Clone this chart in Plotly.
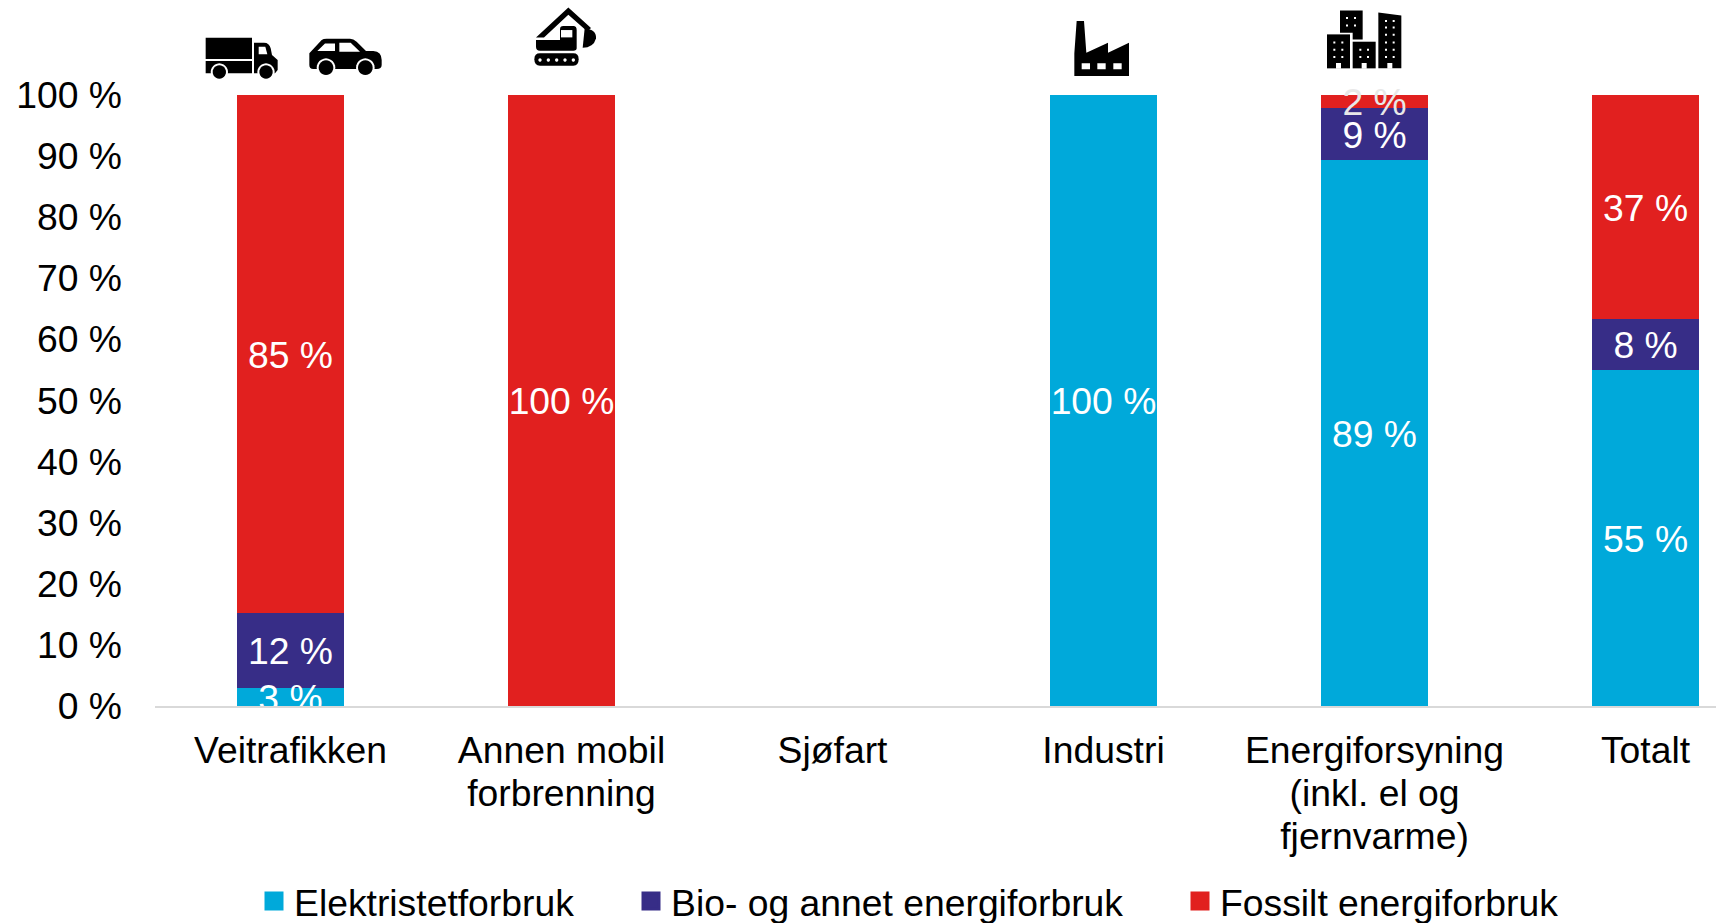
import re
import math
import plotly.graph_objects as go

# ---------- data ----------
categories = ["Veitrafikken", "Annen mobil<br>forbrenning", "Sjøfart", "Industri",
              "Energiforsyning<br>(inkl. el og<br>fjernvarme)", "Totalt"]
elektrisitet = [3.0, 0, 0, 100, 89.3, 55.0]
bio = [12.2, 0, 0, 0, 8.6, 8.4]
fossilt = [84.8, 100, 0, 0, 2.1, 36.6]
series_names = ["Elektristetforbruk", "Bio- og annet energiforbruk", "Fossilt energiforbruk"]
series_colors = ["#00A9DA", "#372D87", "#E1201F"]
y_ticks = list(range(0, 101, 10))
y_tick_labels = [f"{v} %" for v in y_ticks]

FONT = "Liberation Sans"
SIZE = 37.3
W, H = 1716, 923
L, R_PLOT, T, B = 155.0, 1716, 95, 706.5
LABEL_DROP = 0.72  # label centring offset, in axis units


def fx(px):
    return (px - L) / (R_PLOT - L)


def fy(py):
    return (B - py) / (B - T)


def conv(path, ox=0.0, oy=0.0):
    """Zoomed-icon path (3x pixels) to paper coordinates."""
    out = []
    for cmd, args in re.findall(r"([MLHVQCZ])([^MLHVQCZ]*)", path):
        nums = [float(n) for n in re.findall(r"-?\d+\.?\d*", args)]
        vals = []
        for i in range(0, len(nums), 2):
            vals.append(f"{fx(ox + nums[i] / 3):.5f},{fy(oy + nums[i + 1] / 3):.5f}")
        out.append(cmd + " ".join(vals))
    return "".join(out)


def circle(cx, cy, r):
    pts = [(cx + r * math.cos(a * math.pi / 12), cy + r * math.sin(a * math.pi / 12)) for a in range(24)]
    return "M" + "L".join(f"{x:.1f},{y:.1f}" for x, y in pts) + "Z"


def rect(x0, y0, x1, y1):
    return f"M{x0},{y0}L{x1},{y0}L{x1},{y1}L{x0},{y1}Z"


icon_shapes = []


def icon(path, color, ox, oy):
    icon_shapes.append(dict(type="path", xref="paper", yref="paper", path=conv(path, ox, oy),
                            fillcolor=color, line=dict(width=0), layer="above"))


# truck and car (offset 180,0)
ox, oy = 180, 0
icon(rect(77, 113, 216, 177) + rect(77, 183, 216, 220), "#000", ox, oy)
icon("M222,128L252,128Q268,128 272,145L276,165L293,180L293,210L285,220L222,220Z", "#000", ox, oy)
icon("M236,140L256,140L262,163L236,163Z", "#fff", ox, oy)
icon("M388,160L425,120Q430,116 440,116L510,116Q520,116 530,125L558,153L580,153Q605,155 605,180"
     "L605,195Q605,207 590,207L400,207Q388,207 388,195Z", "#000", ox, oy)
icon("M412,153L435,130L465,130L465,153Z" + "M478,128L512,128L540,155L478,155Z", "#fff", ox, oy)
for cx, cy, r in [(118, 216, 20), (258, 216, 20), (438, 203, 22), (556, 203, 22)]:
    icon(circle(cx, cy, r + 6), "#fff", ox, oy)
    icon(circle(cx, cy, r), "#000", ox, oy)

# excavator
icon("M1068,112L1165,22L1233,84L1222,94L1165,44L1092,112Z", "#000", ox, oy)
icon("M1068,120L1140,120L1140,88Q1140,78 1150,78L1180,78Q1190,78 1190,90L1190,145Q1190,152 1180,152"
     "L1080,152Q1068,152 1068,140Z", "#000", ox, oy)
icon("M1143,90L1177,90L1177,112L1143,112Z", "#fff", ox, oy)
icon("M1214,85Q1250,88 1248,115Q1240,143 1208,143Z", "#000", ox, oy)
icon("M1080,160L1180,160Q1196,160 1196,178Q1196,197 1180,197L1080,197Q1063,197 1063,178Q1063,160 1080,160Z",
     "#000", ox, oy)
icon("".join(circle(x, 180, 5) for x in (1080, 1105, 1130, 1155, 1180)), "#fff", ox, oy)

# factory and buildings (offset 1040,0)
ox, oy = 1040, 0
icon("M103,228L103,160L110,63L132,63L139,158L204,128L204,158L267,128L267,228Z", "#000", ox, oy)
icon(rect(125, 190, 150, 208) + rect(172, 190, 197, 208) + rect(220, 190, 245, 208), "#fff", ox, oy)
icon("M900,31L968,31L968,118L938,118L938,98L900,98Z", "#000", ox, oy)
icon(rect(861, 103, 930, 205), "#000", ox, oy)
icon(rect(938, 125, 1007, 205), "#000", ox, oy)
icon("M1015,37L1084,46L1084,205L1015,205Z", "#000", ox, oy)
dots = ""
for x in (921, 945):
    for y in (54, 76):
        dots += rect(x - 3, y - 3, x + 3, y + 3)
for x in (883, 907):
    for y in (127, 149, 171):
        dots += rect(x - 3, y - 3, x + 3, y + 3)
for x in (961, 984):
    for y in (149, 171):
        dots += rect(x - 3, y - 3, x + 3, y + 3)
for x in (1038, 1061):
    for y in (63, 82, 104, 127, 149, 171):
        dots += rect(x - 3, y - 3, x + 3, y + 3)
for x in (888, 965, 1042):
    dots += rect(x, 189, x + 15, 206)
icon(dots, "#fff", ox, oy)

# ---------- figure ----------
fig = go.Figure()
all_series = [elektrisitet, bio, fossilt]

for name, color, vals in zip(series_names, series_colors, all_series):
    fig.add_bar(x=categories, y=vals, name=name, marker=dict(color=color, line=dict(width=0)),
                showlegend=False, hoverinfo="x+y")

base = [0] * len(categories)
for idx, vals in enumerate(all_series):
    mids = [b + v / 2 - LABEL_DROP for b, v in zip(base, vals)]
    texts = [f"{round(v)} %" if v else "" for v in vals]
    colors = ["#E8E8E8" if (idx == 2 and v < 5) else "#FFFFFF" for v in vals]
    fig.add_scatter(x=categories, y=mids, mode="text", text=texts, textposition="middle center",
                    textfont=dict(family=FONT, size=SIZE, color=colors),
                    cliponaxis=(idx == 0), showlegend=False, hoverinfo="skip")
    base = [b + v for b, v in zip(base, vals)]

legend_keys = ["legend", "legend2", "legend3"]
legend_px = [254, 631, 1180]
for name, color, key in zip(series_names, series_colors, legend_keys):
    fig.add_scatter(x=[None], y=[None], mode="markers", name=name, legend=key,
                    marker=dict(symbol="square", size=16, color=color, line=dict(width=3, color=color)))

layout_legends = {}
for key, px in zip(legend_keys, legend_px):
    layout_legends[key] = dict(x=fx(px), xanchor="left", y=fy(902), yanchor="middle",
                               bgcolor="rgba(0,0,0,0)", borderwidth=0,
                               font=dict(family=FONT, size=SIZE, color="#000"))

fig.update_layout(
    width=W, height=H,
    margin=dict(l=L, r=W - R_PLOT, t=T, b=H - B, autoexpand=False),
    paper_bgcolor="#fff", plot_bgcolor="#fff",
    barmode="stack", bargap=0.602,
    showlegend=True,
    font=dict(family=FONT, size=SIZE, color="#000"),
    shapes=icon_shapes,
    xaxis=dict(type="category", categoryorder="array", categoryarray=categories,
               range=[-0.5, 5.26], showgrid=False, zeroline=False,
               showline=True, linecolor="#D9D9D9", linewidth=2,
               ticks="", ticklabelstandoff=10, tickangle=0,
               tickfont=dict(family=FONT, size=SIZE, color="#000")),
    yaxis=dict(range=[0, 100], tickmode="array", tickvals=y_ticks, ticktext=y_tick_labels,
               showgrid=False, zeroline=False, showline=False, ticks="",
               ticklabelstandoff=32,
               tickfont=dict(family=FONT, size=SIZE, color="#000")),
    **layout_legends,
)

post = """
document.body.style.margin='0';
document.body.style.overflow='hidden';
document.querySelectorAll('.xtick text tspan.line').forEach(function(t){
  var d=parseFloat(t.getAttribute('dy')||'0');
  t.setAttribute('dy',(d/1.3*1.158)+'em');
});
"""
fig.write_html("out.html", post_script=post, config={"displayModeBar": False})
